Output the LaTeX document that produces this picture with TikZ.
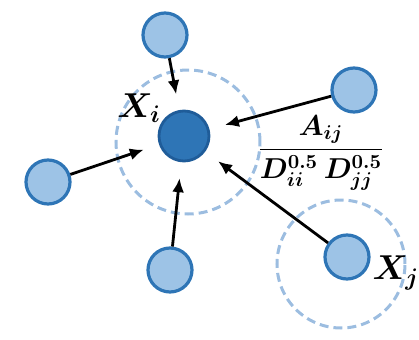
\documentclass[tikz,border=0pt]{standalone}
\usetikzlibrary{arrows.meta}
\usepackage{amsmath}
\usepackage{bm}
\usepackage{xcolor}

\definecolor{nodeblue}{HTML}{2E75B6}
\definecolor{darkblue}{HTML}{1F5C99}
\definecolor{lightblue}{HTML}{9DC3E6}
\definecolor{ringblue}{HTML}{9CBDE0}

\begin{document}
\begin{tikzpicture}[x=0.5pt,y=0.5pt,>={Latex[length=7pt,width=6pt]},
    centre/.style={circle,fill=nodeblue,draw=darkblue,line width=1.4pt,minimum size=25pt,inner sep=0pt},
    nbr/.style={circle,fill=lightblue,draw=nodeblue,line width=1.6pt,minimum size=22pt,inner sep=0pt},
    ring/.style={circle,draw=ringblue,dash pattern=on 4.5pt off 2.5pt,line width=1.5pt,inner sep=0pt},
    edge/.style={->,line width=1.4pt,shorten >=8pt}]
            \useasboundingbox (0,0) rectangle (419,339);

            % the neighbourhood rings
            \node[ring,minimum size=72pt] (ringi) at (188,197) {};
            \node[ring,minimum size=64pt] (ringj) at (341,75) {};

            % the node and its neighbours
            \node[centre] (c) at (184,203) {};
            \node[nbr] (top) at (165,304) {};
            \node[nbr] (right) at (354,249) {};
            \node[nbr] (left) at (48,157) {};
            \node[nbr] (bottom) at (170,69) {};
            \node[nbr] (xj) at (347,82) {};

            % messages into the centre
            \draw[edge] (top) -- (c);
            \draw[edge] (right) -- (c);
            \draw[edge] (left) -- (c);
            \draw[edge] (bottom) -- (c);
            \draw[edge] (xj) -- (c);

            % text
            \node (xi) at (139,231) {\LARGE $\bm{X_i}$};
            \node (frac) at (321,186) {\Large $\displaystyle\bm{\frac{A_{ij}}{D_{ii}^{0.5}\,D_{jj}^{0.5}}}$};
            \node (xjlabel) at (396,66) {\LARGE $\bm{X_j}$};
\end{tikzpicture}
\end{document}
